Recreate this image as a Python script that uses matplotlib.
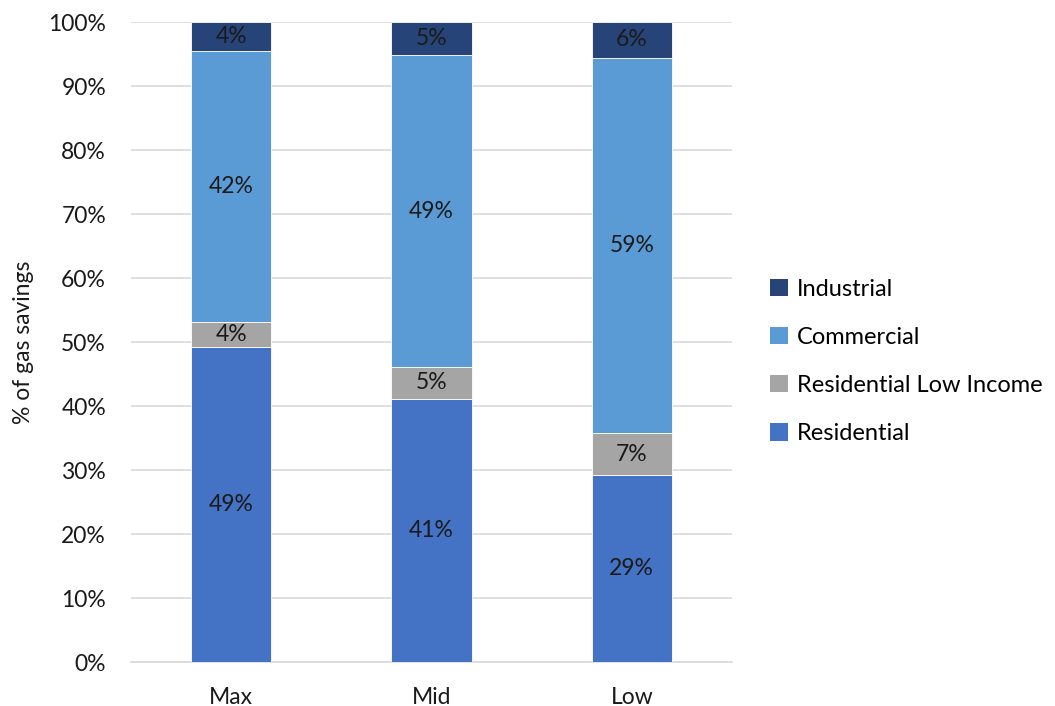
import numpy as np
import matplotlib.pyplot as plt
from matplotlib.patches import Patch

plt.rcParams["font.family"] = ["Lato", "DejaVu Sans"]

scenarios = ["Max", "Mid", "Low"]
series = ["Residential", "Residential Low Income", "Commercial", "Industrial"]
residential = [49.2, 41.1, 29.2]
res_low_income = [3.9, 5.0, 6.6]
commercial = [42.4, 48.7, 58.6]
industrial = [4.5, 5.2, 5.6]
colors = ["#4472C4", "#A5A5A5", "#5B9BD5", "#264478"]

data = np.array([residential, res_low_income, commercial, industrial])
shares = data / data.sum(axis=0) * 100

fig = plt.figure(figsize=(10.55, 7.06), dpi=100)
ax = fig.add_axes([0.1242, 0.0623, 0.5696, 0.9065])

x = np.arange(len(scenarios))
bottom = np.zeros(len(scenarios))
for vals, name, c in zip(shares, series, colors):
    ax.bar(x, vals, bottom=bottom, width=0.4, color=c, edgecolor="white",
           linewidth=0.6, label=name, zorder=3)
    for xi, b, v in zip(x, bottom, vals):
        ax.text(xi, b + v / 2, f"{v:.0f}%", ha="center", va="center",
                fontsize=16.5, color="#1a1a1a", zorder=4)
    bottom += vals

ax.set_xlim(-0.5, 2.5)
ax.set_ylim(0, 100)
ax.set_yticks(np.arange(0, 101, 10))
ax.set_yticklabels([f"{t}%" for t in range(0, 101, 10)])
ax.set_xticks(x)
ax.set_xticklabels(scenarios)
ax.tick_params(axis="both", length=0, labelsize=16.5, colors="#1a1a1a")
ax.tick_params(axis="x", pad=18)
ax.tick_params(axis="y", pad=18)
ax.yaxis.grid(True, color="#D9D9D9", linewidth=1.2, zorder=0)
for sp in ["top", "right", "left"]:
    ax.spines[sp].set_visible(False)
ax.spines["bottom"].set_color("#D9D9D9")
ax.spines["bottom"].set_linewidth(1.2)
ax.set_ylabel("% of gas savings", fontsize=16.5, color="#1a1a1a", labelpad=10)

handles = [Patch(facecolor=c, label=n) for n, c in zip(series, colors)][::-1]
fig.legend(handles=handles, loc="center left", bbox_to_anchor=(0.721, 0.488),
           frameon=False, fontsize=17, handlelength=0.75, handleheight=0.75,
           handletextpad=0.4, labelspacing=1.15, borderaxespad=0)

fig.savefig("out.png", dpi=100)
